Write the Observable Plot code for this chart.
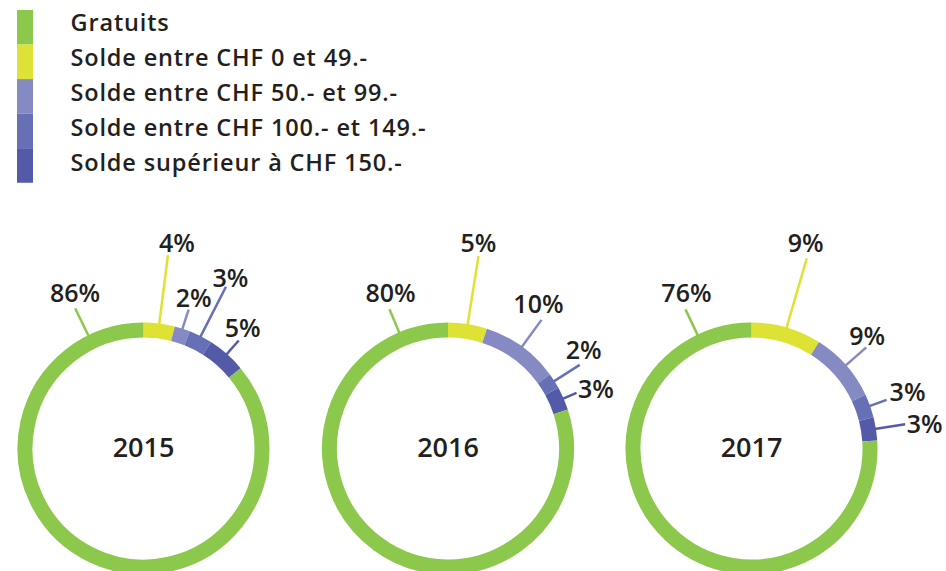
<!DOCTYPE html>
<html><head><meta charset="utf-8">
<script src="https://cdn.jsdelivr.net/npm/d3@7"></script>
<script src="https://cdn.jsdelivr.net/npm/@observablehq/plot@0.6"></script>
<style>
html,body{margin:0;padding:0;background:#fff;}
#chart svg{display:block;}
</style>
</head><body><div id="chart"></div>
<script>
// ---------- data ----------
const categories = ["Gratuits", "Solde entre CHF 0 et 49.-", "Solde entre CHF 50.- et 99.-", "Solde entre CHF 100.- et 149.-", "Solde supérieur à CHF 150.-"];
const colors = ["#8cc84b", "#dee234", "#858ac3", "#6770b5", "#535ba9"];
const years = ["2015", "2016", "2017"];
const share2015 = [86, 4, 2, 3, 5];
const share2016 = [80, 5, 10, 2, 3];
const share2017 = [76, 9, 9, 3, 3];
const shares = [share2015, share2016, share2017];

// ---------- layout ----------
const W = 946, H = 571;
const centersX = [143, 447.5, 751], cy = 448, rOuter = 126, ringWidth = 15;
const rMid = rOuter - ringWidth / 2;
const ringOrder = [1, 2, 3, 4, 0];
const greenLeaderAngle = [-26, -22.8, -25.4];
const leaderLen = [[30, 69, 20, 55.6, 18], [25, 69, 33, 30, 14], [28, 72, 27, 17.6, 29.6]];
const labelOffset = [
  [[0, -14, "middle"], [9, -11, "middle"], [5, -10.5, "middle"], [4.5, -8, "middle"], [4, -11.5, "middle"]],
  [[1, -15, "middle"], [0, -12, "middle"], [-3, -14.5, "middle"], [4, -14.4, "middle"], [1.5, -2.4, "start"]],
  [[1, -15.4, "middle"], [-1, -14.4, "middle"], [1, -10.6, "middle"], [3, -7, "start"], [1.5, 1.3, "start"]]
];
const legendTop = 10, legendRow = 34.55, legendTextTop = 23.2, legendTextRow = 35;
const textColor = "#231f20";
const overlap = 0.6; // degrees, hides seams between pieces of one slice
const rad = Math.PI / 180;
const px = (cx, r, a) => cx + r * Math.sin(a * rad);
const py = (r, a) => cy - r * Math.cos(a * rad);

// ---------- derived geometry ----------
const arcMarks = [];
const leaders = [];
const labels = [];
years.forEach((yr, yi) => {
  const cx = centersX[yi];
  let a = 0;
  ringOrder.forEach(ci => {
    const v = shares[yi][ci];
    const span = v / 100 * 360;
    const n = Math.ceil(span / 90);
    for (let k = 0; k < n; k++) {
      const a0 = a + span * k / n;
      const a1 = a + span * (k + 1) / n + (k < n - 1 ? overlap : 0);
      arcMarks.push(Plot.arrow([{cat: categories[ci], a0, a1}], {
        x1: d => px(cx, rMid, d.a0), y1: d => py(rMid, d.a0),
        x2: d => px(cx, rMid, d.a1), y2: d => py(rMid, d.a1),
        bend: (a1 - a0) / 2, stroke: "cat", strokeWidth: ringWidth,
        headLength: 0, strokeLinecap: "butt"
      }));
    }
    const mid = ci === 0 ? greenLeaderAngle[yi] : a + span / 2;
    const rEnd = rOuter + leaderLen[yi][ci];
    const ex = px(cx, rEnd, mid), ey = py(rEnd, mid);
    leaders.push({cat: categories[ci], x1: px(cx, rOuter - 3, mid), y1: py(rOuter - 3, mid), x2: ex, y2: ey});
    const [dx, dy, anchor] = labelOffset[yi][ci];
    labels.push({text: v + "%", x: ex + dx, y: ey + dy, anchor});
    a += span;
  });
});

const chart = Plot.plot({
  width: W, height: H, margin: 0,
  x: {domain: [0, W], range: [0, W], axis: null},
  y: {domain: [0, H], range: [0, H], axis: null},
  color: {domain: categories, range: colors},
  style: {fontFamily: "'Open Sans', sans-serif", background: "#fff"},
  marks: [
    Plot.rect(categories, {x1: () => 17, x2: () => 33, y1: (d, i) => legendTop + i * legendRow, y2: (d, i) => legendTop + (i + 1) * legendRow, fill: d => d}),
    Plot.text(categories, {x: () => 70, y: (d, i) => legendTextTop + i * legendTextRow, text: d => d, textAnchor: "start", fontSize: 23.5, fontWeight: 600, fill: textColor}),
    ...arcMarks,
    Plot.link(leaders, {x1: "x1", y1: "y1", x2: "x2", y2: "y2", stroke: "cat", strokeWidth: 2.5}),
    Plot.text(labels.filter(d => d.anchor === "middle"), {x: "x", y: "y", text: "text", textAnchor: "middle", fontSize: 25, fontWeight: 600, fill: textColor}),
    Plot.text(labels.filter(d => d.anchor === "start"), {x: "x", y: "y", text: "text", textAnchor: "start", fontSize: 25, fontWeight: 600, fill: textColor}),
    Plot.text(years, {x: (d, i) => centersX[i], y: () => cy, text: d => d, fontSize: 27, fontWeight: 600, fill: textColor})
  ]
});
// legend labels are set a little wider, as in the original
d3.select(chart).selectAll("text").each(function() {
  if (categories.includes(this.textContent)) this.style.letterSpacing = "0.85px";
});
document.getElementById("chart").appendChild(chart);
</script>
</body></html>
